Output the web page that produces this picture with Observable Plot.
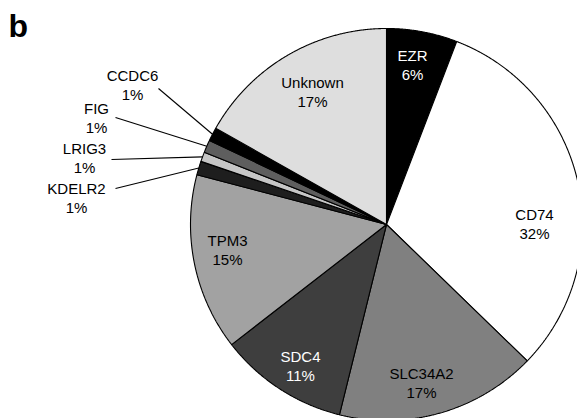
<!DOCTYPE html>
<html><head><meta charset="utf-8">
<script src="https://cdn.jsdelivr.net/npm/d3@7"></script>
<script src="https://cdn.jsdelivr.net/npm/@observablehq/plot@0.6"></script>
<style>html,body{margin:0;padding:0;background:#fff;overflow:hidden;}</style>
</head><body><div id="chart"></div>
<script>
// ---- data ----
const genes = ["EZR","CD74","SLC34A2","SDC4","TPM3","KDELR2","LRIG3","FIG","CCDC6","Unknown"];
const shares = [5.83, 31.42, 16.61, 10.64, 14.58, 1.14, 0.78, 1.06, 1.11, 16.83];
const pctLabels = ["6%","32%","17%","11%","15%","1%","1%","1%","1%","17%"];

// ---- styles ----
const fills = ["#000000","#ffffff","#808080","#3e3e3e","#a2a2a2","#1e1e1e","#c6c6c6","#5e5e5e","#000000","#dedede"];
const textColors = ["#fff","#000","#000","#fff","#000","#000","#000","#000","#000","#000"];

// ---- layout ----
const cx = 386, cy = 224, R = 196;
const labelPos = {
  EZR: [412, 64], CD74: [534, 223], SLC34A2: [421, 382], SDC4: [300, 365],
  TPM3: [227, 249], Unknown: [312, 91],
  CCDC6: [132, 84], FIG: [96, 117], LRIG3: [84, 157], KDELR2: [76, 197]
};
const leaderStart = { CCDC6: [158, 88], FIG: [115, 117], LRIG3: [111, 159], KDELR2: [115, 188] };

const arcs = d3.pie().sort(null).value(d => d)(shares);
const px = (a, r) => cx + r * Math.sin(a);
const py = (a, r) => cy - r * Math.cos(a);

const poly = [];
arcs.forEach((a, i) => {
  poly.push({gene: genes[i], fill: fills[i], x: cx, y: cy});
  const n = Math.max(2, Math.ceil((a.endAngle - a.startAngle) / (Math.PI / 720)));
  for (let k = 0; k <= n; k++) {
    const t = a.startAngle + (a.endAngle - a.startAngle) * k / n;
    poly.push({gene: genes[i], fill: fills[i], x: px(t, R), y: py(t, R)});
  }
});

const labels = genes.map((g, i) => ({
  text: g + "\n" + pctLabels[i], x: labelPos[g][0], y: labelPos[g][1], color: textColors[i]
}));

const leaders = genes.map((g, i) => ({g, i})).filter(d => leaderStart[d.g]).map(({g, i}) => {
  const mid = (arcs[i].startAngle + arcs[i].endAngle) / 2;
  return {x1: leaderStart[g][0], y1: leaderStart[g][1], x2: px(mid, R), y2: py(mid, R)};
});

const chart = Plot.plot({
  width: 577, height: 418, margin: 0,
  style: {background: "#fff", fontFamily: "'Liberation Sans', Arial, sans-serif"},
  x: {domain: [0, 577], range: [0, 577], axis: null},
  y: {domain: [0, 418], range: [0, 418], axis: null},
  marks: [
    Plot.line(poly, {x: "x", y: "y", z: "gene", fill: "fill", stroke: "#000", strokeWidth: 1.1, strokeLinejoin: "miter", curve: "linear-closed"}),
    Plot.link(leaders, {x1: "x1", y1: "y1", x2: "x2", y2: "y2", stroke: "#000", strokeWidth: 1.1}),
    Plot.text(labels, {x: "x", y: "y", text: "text", fill: "color", fontSize: 15, lineHeight: 1.25, textAnchor: "middle", lineAnchor: "middle"}),
    Plot.text(["b"], {x: [8], y: [36], text: d => d, fontSize: 32, fontWeight: "bold", textAnchor: "start", lineAnchor: "bottom", fill: "#000"})
  ]
});
document.getElementById("chart").appendChild(chart);
</script>
</body></html>
